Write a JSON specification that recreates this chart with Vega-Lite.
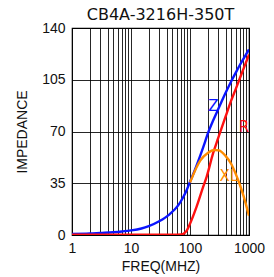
{
  "$schema": "https://vega.github.io/schema/vega-lite/v6.json",
  "width": 177,
  "height": 207,
  "autosize": {"type": "none"},
  "padding": {"left": 72, "top": 28, "right": 25, "bottom": 42},
  "background": "white",
  "config": {
    "view": {"stroke": "black", "strokeWidth": 1.2},
    "axis": {"labelFont": "Liberation Sans", "titleFont": "Liberation Sans", "labelFontSize": 14, "titleFontSize": 14, "labelColor": "#111", "titleColor": "#111", "titleFontWeight": "normal", "domain": false, "ticks": false, "gridColor": "#000", "gridOpacity": 0.85, "gridWidth": 1}
  },
  "title": {"text": "CB4A-3216H-350T", "font": "DejaVu Sans", "fontSize": 16, "fontWeight": "normal", "color": "#111", "offset": -2},
  "datasets": {
    "curves": [
      {"f": 1, "v": 0.7, "s": "Z"}, {"f": 2, "v": 1.0, "s": "Z"}, {"f": 3, "v": 1.4, "s": "Z"}, {"f": 5, "v": 1.9, "s": "Z"}, {"f": 7, "v": 2.4, "s": "Z"}, {"f": 10, "v": 3.1, "s": "Z"}, {"f": 15, "v": 4.4, "s": "Z"}, {"f": 20, "v": 6.0, "s": "Z"}, {"f": 30, "v": 9.3, "s": "Z"}, {"f": 45, "v": 14, "s": "Z"}, {"f": 63, "v": 20, "s": "Z"}, {"f": 77, "v": 25.7, "s": "Z"}, {"f": 88, "v": 30.5, "s": "Z"}, {"f": 100, "v": 36, "s": "Z"}, {"f": 121, "v": 44, "s": "Z"}, {"f": 147, "v": 53, "s": "Z"}, {"f": 180, "v": 63, "s": "Z"}, {"f": 200, "v": 68.5, "s": "Z"}, {"f": 250, "v": 78, "s": "Z"}, {"f": 300, "v": 85, "s": "Z"}, {"f": 400, "v": 96, "s": "Z"}, {"f": 500, "v": 104, "s": "Z"}, {"f": 600, "v": 110, "s": "Z"}, {"f": 700, "v": 115, "s": "Z"}, {"f": 800, "v": 119, "s": "Z"}, {"f": 1000, "v": 125.5, "s": "Z"},
      {"f": 1, "v": 0.2, "s": "R"}, {"f": 10, "v": 0.2, "s": "R"}, {"f": 50, "v": 0.2, "s": "R"}, {"f": 72, "v": 0.4, "s": "R"}, {"f": 80, "v": 1.2, "s": "R"}, {"f": 88, "v": 3, "s": "R"}, {"f": 100, "v": 7.6, "s": "R"}, {"f": 129, "v": 19, "s": "R"}, {"f": 167, "v": 32.5, "s": "R"}, {"f": 192, "v": 39.5, "s": "R"}, {"f": 245, "v": 55, "s": "R"}, {"f": 300, "v": 65.5, "s": "R"}, {"f": 400, "v": 80, "s": "R"}, {"f": 500, "v": 91, "s": "R"}, {"f": 600, "v": 99, "s": "R"}, {"f": 700, "v": 106, "s": "R"}, {"f": 800, "v": 112, "s": "R"}, {"f": 1000, "v": 122, "s": "R"},
      {"f": 100, "v": 35.5, "s": "XL"}, {"f": 110, "v": 39.5, "s": "XL"}, {"f": 130, "v": 46, "s": "XL"}, {"f": 150, "v": 50.5, "s": "XL"}, {"f": 200, "v": 55.5, "s": "XL"}, {"f": 260, "v": 57.5, "s": "XL"}, {"f": 310, "v": 57.2, "s": "XL"}, {"f": 400, "v": 53.5, "s": "XL"}, {"f": 500, "v": 48, "s": "XL"}, {"f": 600, "v": 41, "s": "XL"}, {"f": 700, "v": 34, "s": "XL"}, {"f": 800, "v": 27, "s": "XL"}, {"f": 1000, "v": 13, "s": "XL"}
    ],
    "labels": [
      {"f": 248, "v": 87.2, "s": "Z"},
      {"f": 823, "v": 73.2, "s": "R"},
      {"f": 455, "v": 39.9, "s": "XL"}
    ]
  },
  "encoding": {
    "x": {"field": "f", "type": "quantitative", "scale": {"type": "log", "domain": [1, 1000], "nice": false},
      "axis": {"title": "FREQ(MHZ)", "format": "d", "values": [1,2,3,4,5,6,7,8,9,10,20,30,40,50,60,70,80,90,100,200,300,400,500,600,700,800,900,1000],
        "labelExpr": "indexof([1,10,100,1000], datum.value) >= 0 ? datum.label : ''", "labelPadding": 6, "titlePadding": 4, "labelFlush": false, "labelOverlap": false}},
    "y": {"field": "v", "type": "quantitative", "scale": {"domain": [0, 140], "nice": false},
      "axis": {"title": "IMPEDANCE", "values": [0, 35, 70, 105, 140], "labelPadding": 7, "titlePadding": 12, "labelFlush": false}},
    "color": {"field": "s", "type": "nominal", "scale": {"domain": ["Z", "R", "XL"], "range": ["#0a14ff", "#ff1010", "#ff8c00"]}, "legend": null}
  },
  "layer": [
    {"data": {"name": "curves"}, "mark": {"type": "line", "strokeWidth": 2.4, "interpolate": "monotone", "clip": true}},
    {"data": {"name": "labels"}, "mark": {"type": "text", "font": "DejaVu Sans", "fontSize": 15, "align": "center", "baseline": "middle"}, "encoding": {"text": {"field": "s"}}}
  ]
}
